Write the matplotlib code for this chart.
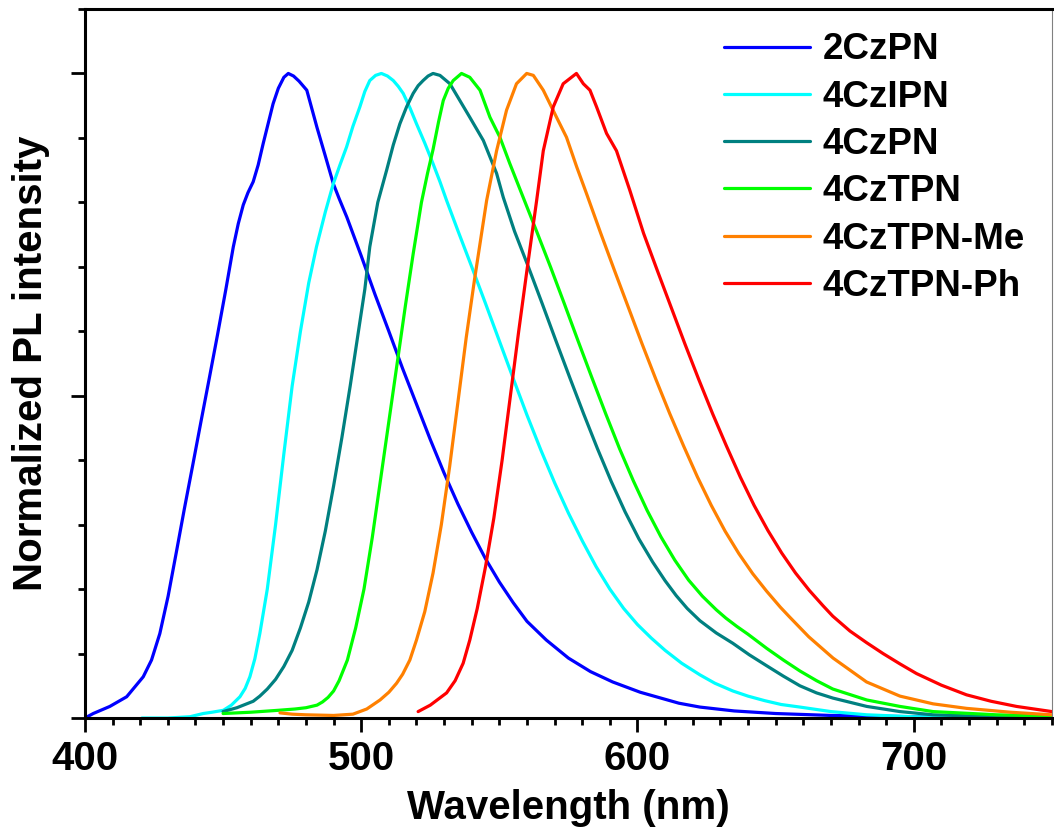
import matplotlib
matplotlib.use('Agg')
import matplotlib.pyplot as plt
from matplotlib.ticker import MultipleLocator, NullFormatter

plt.rcParams['font.family'] = ['Liberation Sans', 'DejaVu Sans']
plt.rcParams['font.weight'] = 'bold'

# Normalized PL spectra (wavelength in nm, intensity normalized to peak)
wl_2czpn = [400, 403, 409, 415.1, 421.1, 424.1, 427.1, 430.1, 433.2, 436, 439, 442, 445, 448, 451,
            453.7, 455.5, 457.3, 459, 460.9, 462.7, 464.5, 466.3, 468.1, 470, 472, 473.6, 475.5, 477.5,
            480.3, 484, 487, 489.9, 492, 494.8, 500, 505, 510, 515, 520, 525, 530, 535, 540, 545, 550,
            555, 560, 567, 575, 583, 591, 601, 615, 622.6, 635, 650, 670, 700, 750]
pl_2czpn = [0.0, 0.007, 0.018, 0.033, 0.064, 0.09, 0.131, 0.189, 0.26, 0.325, 0.392, 0.46, 0.527, 0.595,
            0.665, 0.731, 0.767, 0.796, 0.815, 0.832, 0.858, 0.891, 0.922, 0.953, 0.977, 0.994, 1.0,
            0.996, 0.988, 0.974, 0.916, 0.872, 0.829, 0.806, 0.777, 0.717, 0.657, 0.600, 0.542, 0.487,
            0.432, 0.380, 0.332, 0.288, 0.247, 0.211, 0.179, 0.150, 0.121, 0.093, 0.072, 0.056, 0.040,
            0.023, 0.017, 0.011, 0.007, 0.004, 0.002, 0.001]

wl_4czipn = [420.6, 430, 438, 442.8, 446, 450.1, 453, 456.1, 458, 459.7, 461.5, 463.3, 466, 469, 472,
             475, 478, 481, 483.8, 487, 489.9, 492.3, 494.7, 497, 499.5, 501.3, 503.1, 505.2, 507.3,
             509.5, 511.6, 513.4, 515.2, 517.6, 520, 523, 526, 528.5, 530.9, 535, 540, 545, 550, 555,
             560, 565, 570, 575, 580, 585, 590, 595, 600, 605, 610, 616, 622.6, 628, 634.5, 640, 646,
             652, 658.8, 670, 683, 700, 725, 750]
pl_4czipn = [0.0, 0.0, 0.002, 0.007, 0.009, 0.012, 0.02, 0.033, 0.046, 0.064, 0.092, 0.131, 0.20, 0.30,
             0.41, 0.515, 0.60, 0.675, 0.731, 0.785, 0.829, 0.858, 0.886, 0.918, 0.948, 0.972, 0.989,
             0.997, 1.0, 0.996, 0.989, 0.98, 0.969, 0.947, 0.922, 0.892, 0.86, 0.832, 0.803, 0.756,
             0.70, 0.643, 0.585, 0.527, 0.47, 0.416, 0.365, 0.318, 0.275, 0.235, 0.20, 0.17, 0.145,
             0.124, 0.105, 0.085, 0.067, 0.054, 0.042, 0.034, 0.027, 0.021, 0.017, 0.01, 0.005, 0.002,
             0.001, 0.0]

wl_4czpn = [450, 455, 460.9, 463.3, 466, 469, 472, 475, 478, 481, 484, 487, 490, 493, 496, 499, 501.3,
            503.1, 506, 509.2, 511.6, 514, 516.4, 518.8, 520.6, 522.4, 524.2, 526, 528.5, 532.1, 535.7,
            539.3, 544.2, 549, 551.4, 555.5, 560.5, 565.5, 570.5, 575.5, 580.5, 585.5, 590.5, 595.5,
            600.5, 605.5, 610, 614, 618, 622.6, 628.5, 634.5, 640.5, 646.8, 652.8, 658.8, 664.8,
            670.7, 683, 695, 707, 730, 750]
pl_4czpn = [0.01, 0.016, 0.026, 0.034, 0.045, 0.06, 0.08, 0.105, 0.14, 0.18, 0.23, 0.29, 0.36, 0.435,
            0.515, 0.60, 0.665, 0.731, 0.80, 0.85, 0.889, 0.922, 0.948, 0.969, 0.981, 0.989, 0.996, 1.0,
            0.997, 0.984, 0.958, 0.932, 0.896, 0.845, 0.808, 0.755, 0.70, 0.643, 0.585, 0.528, 0.472,
            0.418, 0.367, 0.32, 0.278, 0.242, 0.213, 0.19, 0.17, 0.151, 0.132, 0.116, 0.098, 0.081,
            0.065, 0.05, 0.039, 0.031, 0.018, 0.01, 0.005, 0.002, 0.0]

wl_4cztpn = [450, 460, 470, 476, 480, 484, 486, 488, 490, 492, 495, 498, 501, 504, 507, 510, 513, 516,
             518.8, 521.8, 524, 526, 528, 529.7, 531.5, 533.3, 536.3, 539.3, 543, 546.6, 550.2, 553.8,
             558.6, 563.5, 568.5, 573.5, 578.5, 583.5, 588.5, 593.5, 598.5, 603.5, 608.5, 613.5, 618.5,
             623.5, 628.5, 632, 636, 640, 646.8, 652.8, 658.8, 664.8, 670.7, 683, 695, 707, 730, 750]
pl_4cztpn = [0.007, 0.009, 0.012, 0.014, 0.016, 0.02, 0.025, 0.032, 0.042, 0.058, 0.09, 0.14, 0.20, 0.28,
             0.37, 0.46, 0.55, 0.64, 0.72, 0.80, 0.845, 0.882, 0.925, 0.958, 0.977, 0.989, 1.0, 0.994,
             0.974, 0.932, 0.901, 0.86, 0.808, 0.755, 0.70, 0.643, 0.585, 0.528, 0.472, 0.418, 0.368,
             0.322, 0.281, 0.245, 0.214, 0.189, 0.168, 0.155, 0.142, 0.13, 0.108, 0.09, 0.073, 0.058,
             0.045, 0.028, 0.018, 0.01, 0.005, 0.003]

wl_me = [470.6, 475, 480, 490, 497, 502, 506.8, 510, 512.8, 515, 517.6, 520, 523, 526, 529, 532, 535, 538,
         541, 543.5, 545.4, 549, 552.6, 556.2, 559.9, 562.3, 565.9, 570.7, 574.3, 578, 581.6, 586.7,
         591.7, 596.7, 601.7, 606.7, 611.7, 616.7, 621.7, 626.7, 631.7, 636.7, 641.7, 646.7, 651.7, 655,
         662, 670.8, 682.9, 695, 707, 719.1, 735, 750]
pl_me = [0.008, 0.006, 0.005, 0.004, 0.006, 0.014, 0.028, 0.04, 0.054, 0.068, 0.09, 0.121, 0.165, 0.225,
         0.30, 0.39, 0.49, 0.59, 0.68, 0.75, 0.803, 0.88, 0.943, 0.984, 1.0, 0.997, 0.974, 0.932, 0.901,
         0.855, 0.813, 0.752, 0.694, 0.637, 0.58, 0.525, 0.472, 0.422, 0.374, 0.33, 0.29, 0.255, 0.224,
         0.197, 0.172, 0.157, 0.126, 0.093, 0.056, 0.034, 0.022, 0.015, 0.009, 0.005]

wl_ph = [520.6, 525, 530.9, 534, 536.9, 539.3, 542, 545, 548, 551, 554, 557, 560, 563.5, 565.9, 569.5,
         573.1, 575.5, 577.9, 580.4, 582.8, 585.2, 588.8, 592.4, 597.2, 602.2, 607.2, 612.2, 617.2,
         622.2, 627.2, 632.2, 637.2, 642.2, 647.2, 652.2, 657.2, 662.2, 667.2, 670.7, 676.9, 682.9,
         688.9, 695, 701, 710, 719.1, 728, 737.2, 750]
pl_ph = [0.01, 0.02, 0.039, 0.058, 0.085, 0.121, 0.17, 0.235, 0.31, 0.40, 0.50, 0.60, 0.695, 0.803,
         0.88, 0.948, 0.984, 0.992, 1.0, 0.984, 0.974, 0.948, 0.907, 0.88, 0.819, 0.752, 0.694, 0.637,
         0.58, 0.525, 0.472, 0.422, 0.374, 0.33, 0.291, 0.256, 0.225, 0.198, 0.174, 0.158, 0.135, 0.117,
         0.10, 0.084, 0.069, 0.051, 0.036, 0.026, 0.018, 0.01]

series = [
    ('2CzPN', wl_2czpn, pl_2czpn, '#0000FF'),
    ('4CzIPN', wl_4czipn, pl_4czipn, '#00FFFF'),
    ('4CzPN', wl_4czpn, pl_4czpn, '#008080'),
    ('4CzTPN', wl_4cztpn, pl_4cztpn, '#00FF00'),
    ('4CzTPN-Me', wl_me, pl_me, '#FF8000'),
    ('4CzTPN-Ph', wl_ph, pl_ph, '#FF0000'),
]

fig = plt.figure(figsize=(10.54, 8.4), dpi=100)
ax = fig.add_axes([0.0806, 0.1452, 0.9174, 0.8441])

for name, wl, pl, color in series:
    ax.plot(wl, pl, color=color, lw=2.3, label=name,
            solid_joinstyle='round', solid_capstyle='round')

ax.set_xlim(400, 750)
ax.set_ylim(0, 1.1)

ax.xaxis.set_major_locator(MultipleLocator(100))
ax.xaxis.set_minor_locator(MultipleLocator(10))
ax.yaxis.set_major_locator(MultipleLocator(0.5))
ax.yaxis.set_minor_locator(MultipleLocator(0.1))
ax.yaxis.set_major_formatter(NullFormatter())

ax.tick_params(axis='both', which='major', direction='out', length=10, width=2, labelsize=29, pad=6)
ax.tick_params(axis='both', which='minor', direction='out', length=5, width=2)
ax.tick_params(axis='y', which='both', left=True, right=False)
ax.tick_params(axis='x', which='both', top=False)

for side in ['left', 'bottom', 'top']:
    ax.spines[side].set_linewidth(2.2)
ax.spines['right'].set_linewidth(0.8)
ax.spines['right'].set_color('#808080')

ax.set_xlabel('Wavelength (nm)', fontsize=29, fontweight='bold', labelpad=8)
ax.set_ylabel('Normalized PL intensity', fontsize=29, fontweight='bold', labelpad=9.5)

ax.legend(loc='upper right', bbox_to_anchor=(0.972, 0.967), frameon=False, fontsize=26.5,
          handlelength=2.36, handletextpad=0.33, labelspacing=0.335, borderpad=0, borderaxespad=0)

fig.savefig('out.png', dpi=100)
